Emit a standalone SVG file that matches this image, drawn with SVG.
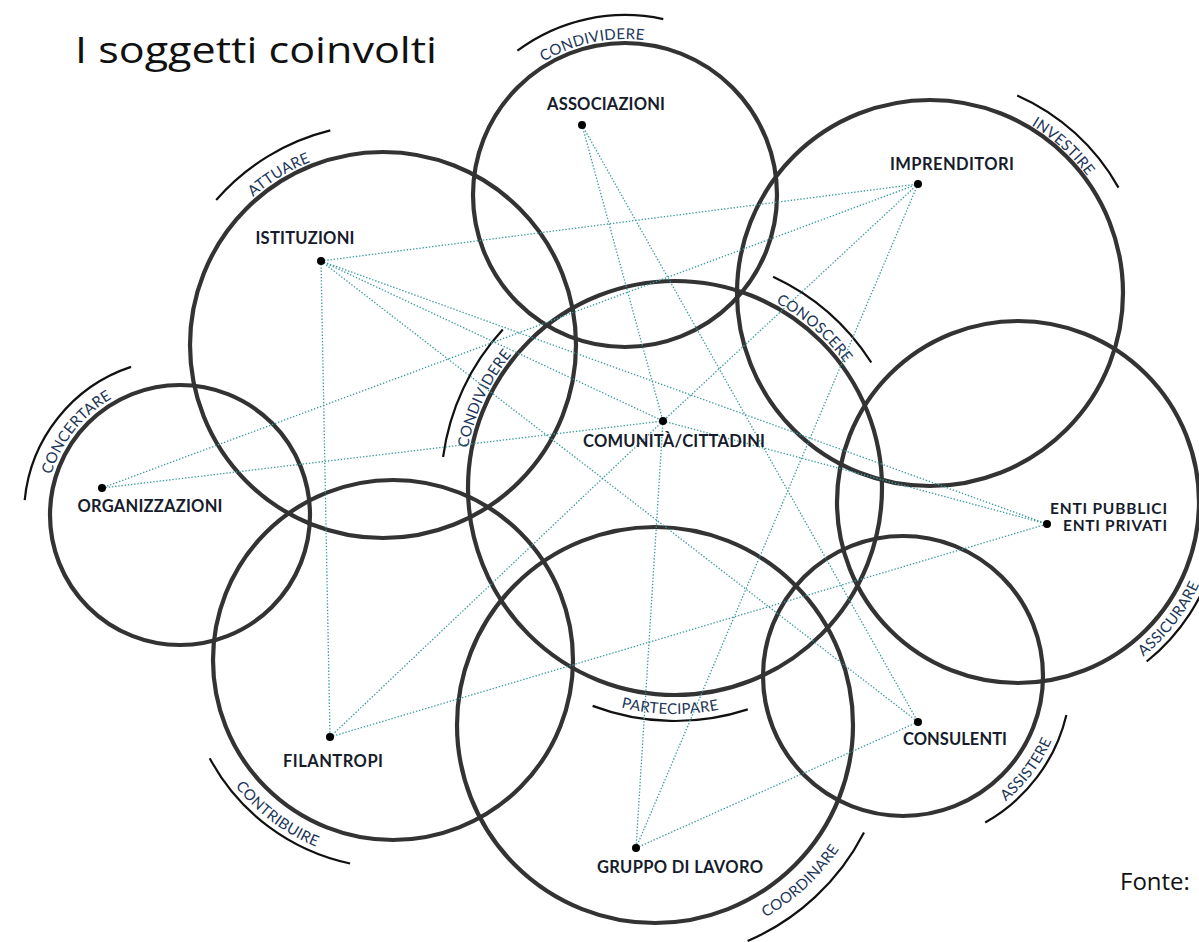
<svg xmlns="http://www.w3.org/2000/svg" xmlns:xlink="http://www.w3.org/1999/xlink" width="1199" height="942" viewBox="0 0 1199 942">
<style>
.ring{fill:none;stroke:#333;stroke-width:4.2}
.arc{fill:none;stroke:#111;stroke-width:2.2}
.lbl{font-family:Lato,"Open Sans",sans-serif;font-size:15px;fill:#1d3557;letter-spacing:0.3px}
.node{font-family:Lato,"Open Sans",sans-serif;font-size:16.5px;font-weight:bold;fill:#161c2c}
.enti{font-size:15.5px}
.dot{fill:#000}
.con line{stroke:#3c9b9b;stroke-width:1.3;stroke-dasharray:1.4 1.8;fill:none}
</style>
<defs>
<path id="p1" d="M531.8,69.9 A156,156 0 0 1 658.2,42.6"/>
<path id="p2" d="M234.3,215.7 A197,197 0 0 1 336.0,153.7"/>
<path id="p3" d="M1009.1,113.7 A196,196 0 0 1 1101.1,197.4"/>
<path id="p4" d="M45.6,502.1 A135,135 0 0 1 137.6,386.8"/>
<path id="p5" d="M465.9,460.1 A211,211 0 0 1 519.7,345.2"/>
<path id="p6" d="M763.8,296.6 A211,211 0 0 1 852.8,374.3"/>
<path id="p7" d="M1143.3,656.6 A199,199 0 0 0 1214.0,536.5"/>
<path id="p8" d="M595.1,699.4 A226,226 0 0 0 745.6,702.7"/>
<path id="p9" d="M215.0,755.5 A202,202 0 0 0 351.3,857.7"/>
<path id="p10" d="M742.4,929.0 A222,222 0 0 0 852.4,826.5"/>
<path id="p11" d="M982.3,817.3 A162,162 0 0 0 1060.6,713.5"/>
</defs>
<rect width="1199" height="942" fill="#fff"/>
<text x="75" y="63" font-family="'Open Sans',sans-serif" font-size="36" fill="#111" textLength="362" lengthAdjust="spacingAndGlyphs">I soggetti coinvolti</text>
<text x="1120" y="890" font-family="'Open Sans',sans-serif" font-size="24" fill="#111">Fonte:</text>

<g id="circles">
<circle class="ring" cx="625" cy="195" r="152"/>
<circle class="ring" cx="383" cy="345" r="193"/>
<circle class="ring" cx="930" cy="293" r="193"/>
<circle class="ring" cx="675" cy="488" r="207"/>
<circle class="ring" cx="180" cy="515" r="130"/>
<circle class="ring" cx="1018" cy="502" r="181"/>
<circle class="ring" cx="393" cy="660" r="180"/>
<circle class="ring" cx="655" cy="725" r="198"/>
<circle class="ring" cx="903" cy="676" r="140"/>
</g>

<g id="arcs">
<path class="arc" d="M517.4,50.7 A180,180 0 0 1 663.3,19.1"/>
<path class="arc" d="M216.2,200.0 A221,221 0 0 1 330.3,130.4"/>
<path class="arc" d="M1017.2,95.4 A216,216 0 0 1 1118.5,187.6"/>
<path class="arc" d="M24.7,500.1 A156,156 0 0 1 131.0,366.9"/>
<path class="arc" d="M443.1,457.0 A234,234 0 0 1 502.8,329.6"/>
<path class="arc" d="M773.1,276.7 A233,233 0 0 1 871.3,362.5"/>
<path class="arc" d="M1146.7,661.5 A205,205 0 0 0 1216,555.1"/>
<path class="arc" d="M592.6,705.9 A233,233 0 0 0 747.8,709.4"/>
<path class="arc" d="M209.7,758.3 A208,208 0 0 0 350.1,863.5"/>
<path class="arc" d="M747.6,941.0 A235,235 0 0 0 864.0,832.4"/>
<path class="arc" d="M985.2,822.5 A168,168 0 0 0 1066.4,714.9"/>
<text class="lbl" text-anchor="middle"><textPath xlink:href="#p1" startOffset="50%">CONDIVIDERE</textPath></text>
<text class="lbl" text-anchor="middle"><textPath xlink:href="#p2" startOffset="50%">ATTUARE</textPath></text>
<text class="lbl" text-anchor="middle"><textPath xlink:href="#p3" startOffset="50%">INVESTIRE</textPath></text>
<text class="lbl" text-anchor="middle"><textPath xlink:href="#p4" startOffset="50%">CONCERTARE</textPath></text>
<text class="lbl" text-anchor="middle"><textPath xlink:href="#p5" startOffset="50%">CONDIVIDERE</textPath></text>
<text class="lbl" text-anchor="middle"><textPath xlink:href="#p6" startOffset="50%">CONOSCERE</textPath></text>
<text class="lbl" font-size="13" letter-spacing="0"><textPath xlink:href="#p7" startOffset="0">ASSICURARE</textPath></text>
<text class="lbl" text-anchor="middle"><textPath xlink:href="#p8" startOffset="50%">PARTECIPARE</textPath></text>
<text class="lbl" text-anchor="middle"><textPath xlink:href="#p9" startOffset="50%">CONTRIBUIRE</textPath></text>
<text class="lbl" text-anchor="middle"><textPath xlink:href="#p10" startOffset="50%">COORDINARE</textPath></text>
<text class="lbl" text-anchor="middle"><textPath xlink:href="#p11" startOffset="50%">ASSISTERE</textPath></text>
</g>

<g id="connectors" class="con">
<line x1="321" y1="261" x2="918" y2="184"/>
<line x1="321" y1="261" x2="330" y2="737"/>
<line x1="321" y1="261" x2="663" y2="421"/>
<line x1="321" y1="261" x2="1047" y2="524"/>
<line x1="321" y1="261" x2="918" y2="722"/>
<line x1="582" y1="125" x2="663" y2="421"/>
<line x1="582" y1="125" x2="918" y2="722"/>
<line x1="918" y1="184" x2="102" y2="488"/>
<line x1="918" y1="184" x2="663" y2="421"/>
<line x1="918" y1="184" x2="636" y2="848"/>
<line x1="663" y1="421" x2="102" y2="488"/>
<line x1="663" y1="421" x2="1047" y2="524"/>
<line x1="663" y1="421" x2="330" y2="737"/>
<line x1="663" y1="421" x2="636" y2="848"/>
<line x1="330" y1="737" x2="1047" y2="524"/>
<line x1="636" y1="848" x2="918" y2="722"/>
</g>

<g id="n-associazioni"><circle class="dot" cx="582" cy="125" r="4"/><text class="node" x="606" y="110" text-anchor="middle" textLength="118">ASSOCIAZIONI</text></g>
<g id="n-imprenditori"><circle class="dot" cx="918" cy="184" r="4"/><text class="node" x="952" y="170" text-anchor="middle" textLength="124">IMPRENDITORI</text></g>
<g id="n-istituzioni"><circle class="dot" cx="321" cy="261" r="4"/><text class="node" x="305" y="244" text-anchor="middle" textLength="99">ISTITUZIONI</text></g>
<g id="n-comunita"><circle class="dot" cx="663" cy="421" r="4"/><text class="node" x="674" y="447" text-anchor="middle" textLength="182">COMUNITÀ/CITTADINI</text></g>
<g id="n-organizzazioni"><circle class="dot" cx="102" cy="488" r="4"/><text class="node" x="150" y="512" text-anchor="middle" textLength="145">ORGANIZZAZIONI</text></g>
<g id="n-enti"><circle class="dot" cx="1047" cy="524" r="4"/><text class="node enti" x="1167" y="514" text-anchor="end" textLength="117">ENTI PUBBLICI</text><text class="node enti" x="1167" y="531" text-anchor="end" textLength="104">ENTI PRIVATI</text></g>
<g id="n-filantropi"><circle class="dot" cx="330" cy="737" r="4"/><text class="node" x="333" y="767" text-anchor="middle" textLength="100">FILANTROPI</text></g>
<g id="n-consulenti"><circle class="dot" cx="918" cy="722" r="4"/><text class="node" x="955" y="745" text-anchor="middle" textLength="104">CONSULENTI</text></g>
<g id="n-gruppo"><circle class="dot" cx="636" cy="848" r="4"/><text class="node" x="680" y="873" text-anchor="middle" textLength="166">GRUPPO DI LAVORO</text></g>
</svg>
